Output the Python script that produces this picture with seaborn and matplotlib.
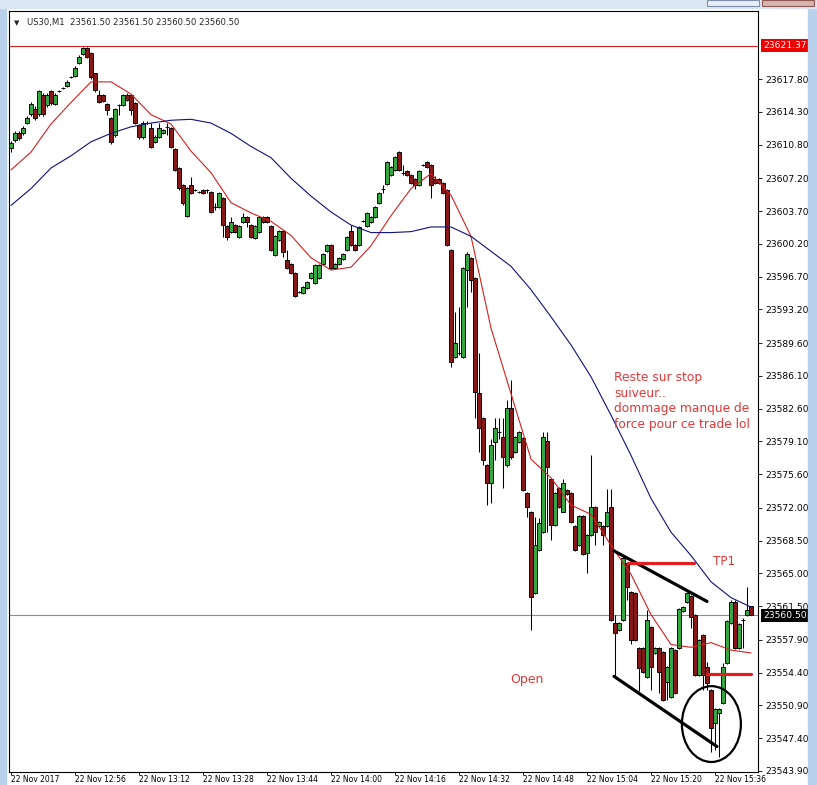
import matplotlib
matplotlib.use("Agg")
import matplotlib.pyplot as plt
import matplotlib.transforms as mtransforms
from matplotlib.patches import Ellipse, Rectangle
import numpy as np
import pandas as pd
import seaborn as sns

# US30 M1 candles, 22 Nov 2017 12:40 -> 15:45 (one per minute)
opens = [
    23610.4, 23611.3, 23612.0, 23612.0, 23613.1, 23614.1, 23614.6, 23614.1, 23616.1, 23615.0,
    23616.5, 23615.1, 23616.5, 23616.8, 23617.1, 23618.0, 23618.1, 23619.5, 23620.5, 23621.1,
    23620.6, 23618.4, 23616.1, 23616.1, 23615.1, 23613.6, 23611.8, 23615.0, 23615.0, 23616.1,
    23616.1, 23615.2, 23612.9, 23611.6, 23613.1, 23612.6, 23611.1, 23611.6, 23612.0, 23612.7,
    23612.6, 23610.3, 23608.3, 23606.5, 23603.2, 23606.5, 23606.0, 23605.7, 23606.0, 23606.0,
    23605.7, 23604.1, 23604.1, 23605.1, 23602.1, 23601.5, 23602.2, 23600.9, 23602.5, 23603.1,
    23602.2, 23600.8, 23601.5, 23603.1, 23603.1, 23602.1, 23599.0, 23600.6, 23601.6, 23598.5,
    23598.0, 23597.1, 23595.1, 23594.9, 23595.5, 23596.5, 23596.0, 23596.5, 23598.0, 23599.4,
    23600.1, 23597.6, 23598.0, 23598.6, 23599.5, 23601.6, 23600.1, 23600.1, 23602.6, 23602.1,
    23602.5, 23603.1, 23604.6, 23606.1, 23606.6, 23607.5, 23608.1, 23610.0, 23607.8, 23608.0,
    23607.5, 23607.1, 23606.5, 23608.6, 23608.9, 23608.6, 23607.1, 23607.1, 23606.7, 23606.0,
    23599.5, 23588.1, 23588.5, 23588.1, 23597.4, 23598.7, 23596.5, 23584.3, 23581.6, 23576.6,
    23574.7, 23579.0, 23580.1, 23579.6, 23576.6, 23582.7, 23578.0, 23579.0, 23579.5, 23573.6,
    23571.6, 23562.9, 23567.5, 23569.4, 23579.1, 23575.1, 23570.2, 23574.1, 23571.6, 23573.9,
    23573.6, 23570.1, 23568.0, 23571.1, 23567.2, 23569.1, 23572.1, 23570.1, 23570.1, 23570.1,
    23572.1, 23559.7, 23559.0, 23560.0, 23566.1, 23563.0, 23562.9, 23557.0, 23557.0, 23553.9,
    23559.3, 23556.5, 23557.0, 23556.6, 23553.4, 23551.8, 23556.8, 23557.0, 23561.0, 23561.9,
    23562.6, 23560.5, 23554.1, 23558.4, 23555.0, 23552.5, 23549.0, 23550.1, 23551.2, 23555.4,
    23559.7, 23561.9, 23557.0, 23560.0, 23560.5, 23561.5,
]
highs = [
    23611.2, 23612.3, 23612.3, 23612.8, 23613.9, 23615.3, 23614.9, 23616.6, 23616.3, 23616.3,
    23616.6, 23616.3, 23616.6, 23617.0, 23617.7, 23618.1, 23619.2, 23620.4, 23621.2, 23621.2,
    23620.7, 23618.5, 23616.6, 23616.2, 23615.2, 23613.7, 23614.7, 23615.1, 23616.2, 23616.3,
    23616.2, 23615.3, 23613.0, 23613.3, 23613.3, 23613.1, 23611.8, 23613.1, 23612.5, 23613.1,
    23612.7, 23610.4, 23608.4, 23606.6, 23606.3, 23607.3, 23606.1, 23605.8, 23606.1, 23606.1,
    23605.8, 23604.6, 23605.7, 23605.2, 23602.2, 23603.1, 23602.3, 23602.2, 23603.5, 23603.2,
    23602.3, 23602.2, 23603.2, 23603.2, 23603.2, 23602.2, 23601.1, 23601.7, 23601.7, 23599.5,
    23598.2, 23597.2, 23595.2, 23595.7, 23596.2, 23597.2, 23598.0, 23598.0, 23599.2, 23600.2,
    23600.2, 23598.2, 23598.8, 23599.2, 23601.0, 23602.2, 23600.2, 23602.1, 23602.7, 23603.6,
    23603.2, 23604.2, 23605.7, 23606.5, 23609.0, 23608.5, 23609.6, 23610.1, 23608.6, 23608.1,
    23607.7, 23607.2, 23608.1, 23608.7, 23609.0, 23608.7, 23607.4, 23607.2, 23606.8, 23606.1,
    23599.6, 23592.9, 23593.5, 23597.7, 23599.3, 23598.8, 23596.7, 23588.5, 23581.7, 23576.7,
    23579.3, 23581.6, 23581.6, 23581.6, 23583.5, 23585.7, 23579.7, 23580.2, 23579.6, 23573.7,
    23571.7, 23571.0, 23570.9, 23580.1, 23580.1, 23575.2, 23573.7, 23574.2, 23575.1, 23574.0,
    23573.7, 23570.2, 23571.2, 23571.2, 23569.2, 23577.6, 23572.2, 23570.6, 23570.2, 23574.0,
    23574.0, 23560.5, 23559.8, 23566.8, 23566.2, 23563.1, 23563.0, 23557.1, 23557.1, 23561.1,
    23559.4, 23557.1, 23557.1, 23556.7, 23555.1, 23557.1, 23556.9, 23561.3, 23561.5, 23563.0,
    23562.7, 23560.7, 23558.0, 23558.5, 23555.5, 23552.6, 23550.6, 23550.6, 23555.4, 23560.0,
    23562.1, 23562.1, 23559.7, 23560.2, 23563.5, 23561.5,
]
lows = [
    23610.0, 23611.1, 23611.3, 23611.8, 23613.0, 23613.9, 23613.4, 23613.9, 23613.9, 23614.8,
    23615.0, 23615.0, 23616.4, 23616.7, 23616.9, 23617.9, 23618.0, 23619.4, 23620.4, 23620.1,
    23617.8, 23616.4, 23615.2, 23615.3, 23614.0, 23610.9, 23611.6, 23614.0, 23614.9, 23615.5,
    23614.0, 23613.0, 23611.4, 23611.4, 23613.0, 23610.4, 23611.0, 23611.5, 23611.9, 23611.8,
    23610.4, 23608.0, 23605.9, 23604.3, 23603.1, 23605.5, 23605.8, 23605.6, 23605.5, 23605.6,
    23603.5, 23603.8, 23604.0, 23600.9, 23600.6, 23601.4, 23601.4, 23600.8, 23602.4, 23602.0,
    23600.8, 23600.7, 23601.4, 23602.4, 23602.4, 23599.4, 23598.9, 23600.5, 23598.8, 23597.5,
    23597.0, 23594.5, 23594.9, 23594.8, 23595.4, 23596.4, 23595.9, 23596.4, 23597.9, 23599.3,
    23597.5, 23597.5, 23597.9, 23598.5, 23599.4, 23600.0, 23599.4, 23600.0, 23602.5, 23602.0,
    23602.4, 23603.0, 23604.5, 23605.6, 23606.5, 23607.4, 23608.0, 23608.0, 23607.5, 23607.4,
    23606.6, 23606.1, 23606.4, 23608.5, 23608.3, 23605.1, 23606.6, 23606.6, 23605.5, 23600.0,
    23587.0, 23588.0, 23588.3, 23588.0, 23593.5, 23595.1, 23581.6, 23578.0, 23576.6, 23572.3,
    23572.5, 23577.1, 23579.3, 23574.1, 23576.4, 23577.2, 23577.9, 23578.9, 23573.8, 23571.0,
    23559.0, 23562.8, 23567.4, 23569.3, 23569.4, 23568.6, 23570.1, 23572.0, 23571.5, 23573.4,
    23570.4, 23567.4, 23567.9, 23567.0, 23565.0, 23569.0, 23568.0, 23570.0, 23568.0, 23570.0,
    23559.9, 23554.0, 23558.8, 23559.9, 23562.2, 23557.4, 23557.8, 23552.4, 23554.4, 23553.8,
    23552.5, 23556.4, 23552.2, 23551.4, 23551.5, 23551.7, 23552.1, 23556.9, 23560.9, 23561.8,
    23559.2, 23554.0, 23554.0, 23552.5, 23552.5, 23545.9, 23546.1, 23545.4, 23551.0, 23555.3,
    23559.6, 23556.9, 23556.9, 23557.0, 23560.4, 23560.5,
]
closes = [
    23611.0, 23612.0, 23611.5, 23612.6, 23613.6, 23615.1, 23613.6, 23616.5, 23614.1, 23616.1,
    23615.2, 23616.1, 23616.5, 23616.8, 23617.5, 23618.0, 23619.0, 23620.2, 23621.1, 23620.2,
    23618.0, 23616.6, 23615.3, 23615.5, 23614.5, 23611.1, 23614.6, 23615.0, 23616.1, 23615.6,
    23614.5, 23613.1, 23611.6, 23613.1, 23613.1, 23610.5, 23611.6, 23612.6, 23612.4, 23612.7,
    23610.5, 23608.1, 23606.2, 23604.6, 23606.2, 23605.6, 23606.0, 23605.7, 23605.6, 23606.0,
    23603.6, 23604.1, 23605.6, 23602.2, 23600.9, 23602.5, 23601.5, 23602.1, 23603.1, 23602.5,
    23600.9, 23602.1, 23603.1, 23602.5, 23602.5, 23599.5, 23601.0, 23601.6, 23599.3, 23597.6,
    23597.1, 23594.6, 23595.1, 23595.6, 23596.1, 23597.1, 23597.9, 23597.9, 23599.1, 23600.1,
    23597.6, 23598.0, 23598.7, 23599.1, 23600.9, 23600.1, 23599.5, 23602.0, 23602.6, 23603.5,
    23603.1, 23604.1, 23605.6, 23606.1, 23608.9, 23608.4, 23609.5, 23608.1, 23607.8, 23607.5,
    23606.7, 23606.5, 23608.0, 23608.6, 23608.4, 23606.5, 23606.7, 23606.7, 23605.6, 23600.1,
    23587.6, 23589.6, 23588.5, 23597.6, 23599.1, 23596.3, 23584.4, 23580.5, 23577.1, 23574.7,
    23578.7, 23580.5, 23580.1, 23577.4, 23582.7, 23577.4, 23579.6, 23580.1, 23573.9, 23572.1,
    23562.5, 23568.0, 23570.4, 23579.6, 23576.4, 23570.2, 23573.6, 23572.1, 23574.7, 23573.5,
    23570.5, 23567.5, 23571.1, 23567.1, 23569.1, 23572.1, 23569.4, 23570.5, 23569.1, 23571.6,
    23560.0, 23558.6, 23559.7, 23566.6, 23563.5, 23557.9, 23557.9, 23554.9, 23554.5, 23560.0,
    23555.0, 23557.0, 23554.5, 23551.5, 23555.0, 23557.0, 23552.2, 23561.2, 23561.4, 23562.9,
    23560.3, 23554.1, 23557.9, 23554.1, 23553.3, 23548.5, 23550.5, 23550.5, 23555.0, 23559.9,
    23561.9, 23557.0, 23559.6, 23560.0, 23561.1, 23560.5,
]

# moving averages every 5 bars
ma_bars = [0, 5, 10, 15, 20, 25, 30, 35, 40, 45, 50, 55, 60, 65, 70, 75, 80, 85, 90,
           95, 100, 105, 110, 115, 120, 125, 130, 135, 140, 145, 150, 155, 160, 165,
           170, 175, 180, 185]
red_ma = [
    23608.1, 23610.0, 23613.0, 23615.3, 23617.5, 23617.5, 23616.2, 23614.0, 23613.0, 23610.1,
    23607.8, 23604.6, 23603.5, 23602.6, 23601.1, 23598.7, 23597.4, 23597.7, 23600.0, 23603.2,
    23606.1, 23607.7, 23605.4, 23601.0, 23591.2, 23584.2, 23577.2, 23575.2, 23572.3, 23571.3,
    23568.0, 23564.9, 23560.6, 23557.4, 23557.1, 23557.6, 23556.8, 23556.5,
]
blue_ma = [
    23604.3, 23606.1, 23608.3, 23609.6, 23611.1, 23612.0, 23612.7, 23613.1, 23613.4, 23613.5,
    23613.1, 23612.0, 23610.6, 23609.4, 23607.2, 23605.3, 23603.6, 23602.2, 23601.4, 23601.4,
    23601.5, 23602.0, 23602.0, 23601.0, 23599.4, 23597.8, 23595.3, 23592.4, 23589.4, 23586.0,
    23581.9, 23577.6, 23573.0, 23569.4, 23566.9, 23564.1, 23562.4, 23561.4,
]

time_bars = [0, 16, 32, 48, 64, 80, 96, 112, 128, 144, 160, 176]
time_labels = ["22 Nov 2017", "22 Nov 12:56", "22 Nov 13:12", "22 Nov 13:28",
               "22 Nov 13:44", "22 Nov 14:00", "22 Nov 14:16", "22 Nov 14:32",
               "22 Nov 14:48", "22 Nov 15:04", "22 Nov 15:20", "22 Nov 15:36"]
price_ticks = [23617.80, 23614.30, 23610.80, 23607.20, 23603.70, 23600.20, 23596.70,
               23593.20, 23589.60, 23586.10, 23582.60, 23579.10, 23575.60, 23572.00,
               23568.50, 23565.00, 23561.50, 23557.90, 23554.40, 23550.90, 23547.40,
               23543.90]
level_price = 23621.37
bid_price = 23560.50

sns.set_style("white")
plt.rcParams["font.family"] = ["DejaVu Sans"]

df = pd.DataFrame({"open": opens, "high": highs, "low": lows, "close": closes})
df["bar"] = np.arange(len(df))
up = df["close"] >= df["open"]

fig = plt.figure(figsize=(8.17, 7.85), dpi=100)
fig.patch.set_facecolor("white")
ax = fig.add_axes([9 / 817, 13 / 785, 749 / 817, 761 / 785])

# window frame bits
fig.patches.append(Rectangle((0, 0), 6 / 817, 1, transform=fig.transFigure,
                             color="#b9d1ea", zorder=0))
fig.patches.append(Rectangle((808 / 817, 0), 9 / 817, 1, transform=fig.transFigure,
                             color="#b9d1ea", zorder=0))
fig.patches.append(Rectangle((0, 777 / 785), 1, 8 / 785, transform=fig.transFigure,
                             color="#dbe6f3", zorder=0))
fig.patches.append(Rectangle((707 / 817, 779 / 785), 52 / 817, 6 / 785,
                             transform=fig.transFigure, fc="#e8eef6", ec="#7d8fa8",
                             lw=0.8, zorder=1))
fig.patches.append(Rectangle((762 / 817, 779 / 785), 52 / 817, 6 / 785,
                             transform=fig.transFigure, fc="#d8b4b0", ec="#8c5a55",
                             lw=0.8, zorder=1))

ax.axhline(level_price, color="#d42020", lw=0.8, zorder=1)
ax.axhline(bid_price, color="#8c8c8c", lw=0.8, zorder=1)

# candles
ax.vlines(df["bar"], df["low"], df["high"], color="black", linewidth=0.75, zorder=2)
ax.bar(df["bar"], (df["close"] - df["open"]).abs(),
       bottom=df[["open", "close"]].min(axis=1), width=0.8,
       color=np.where(up, "#34a83e", "#861818"), edgecolor="black",
       linewidth=0.65, zorder=3)

ma = pd.DataFrame({"bar": ma_bars, "fast": red_ma, "slow": blue_ma})
sns.lineplot(data=ma, x="bar", y="fast", color="#d42020", linewidth=0.8, ax=ax, zorder=4)
sns.lineplot(data=ma, x="bar", y="slow", color="#10107a", linewidth=0.8, ax=ax, zorder=4)

ax.set_xlim(-0.5, 186.75)
ax.set_ylim(23543.78, 23625.07)
ax.set_xlabel("")
ax.set_ylabel("")

ax.yaxis.tick_right()
ax.set_yticks(price_ticks)
ax.set_yticklabels([f"{p:.2f}" for p in price_ticks])
ax.tick_params(axis="y", direction="out", length=3, width=0.6, pad=2,
               labelsize=6.6, colors="black", right=True, left=False)
ax.set_xticks(time_bars)
ax.set_xticklabels(time_labels, ha="left")
ax.tick_params(axis="x", direction="out", length=2, width=0.6, pad=0.5,
               labelsize=5.5, colors="black", bottom=True)
for s in ax.spines.values():
    s.set_visible(True)
    s.set_color("black")
    s.set_linewidth(0.8)

trans = mtransforms.blended_transform_factory(ax.transAxes, ax.transData)
ax.text(1.0067, level_price, f"{level_price:.2f}", transform=trans, ha="left",
        va="center", fontsize=6.6, color="white", clip_on=False, zorder=6,
        bbox=dict(boxstyle="square,pad=0.2", fc="#ee0000", ec="none"))
ax.text(1.0067, bid_price, f"{bid_price:.2f}", transform=trans, ha="left",
        va="center", fontsize=6.6, color="white", clip_on=False, zorder=6,
        bbox=dict(boxstyle="square,pad=0.2", fc="black", ec="none"))

# header
fig.text(14 / 817, 1 - 23 / 785, "\u25bc", fontsize=5, va="center", ha="left")
fig.text(27 / 817, 1 - 23 / 785, "US30,M1  23561.50 23561.50 23560.50 23560.50",
         fontsize=6.1, va="center", ha="left")

# hand drawn annotations
ax.text(150.75, 23586.6, "Reste sur stop\nsuiveur..\ndommage manque de\nforce pour ce trade lol",
        color="#e03838", fontsize=8.8, va="top", ha="left", linespacing=1.25, zorder=6)
ax.text(175.5, 23566.3, "TP1", color="#e03838", fontsize=8.6, va="center", ha="left", zorder=6)
ax.text(124.75, 23553.7, "Open", color="#e03838", fontsize=9, va="center", ha="left", zorder=6)

ax.plot([150.75, 174], [23567.4, 23562.0], color="black", lw=2.3, zorder=5)
ax.plot([150.75, 176.5], [23554.0, 23546.5], color="black", lw=2.3, zorder=5)
ax.plot([154.25, 170.75], [23566.1, 23566.1], color="#e02020", lw=2.3, zorder=5)
ax.plot([174, 185], [23554.3, 23554.3], color="#e02020", lw=2.3, zorder=5)
ax.add_patch(Ellipse((175.1, 23548.9), width=14.75, height=8.1, fill=False,
                     ec="black", lw=1.6, zorder=5))

fig.savefig("out.png", dpi=100)
